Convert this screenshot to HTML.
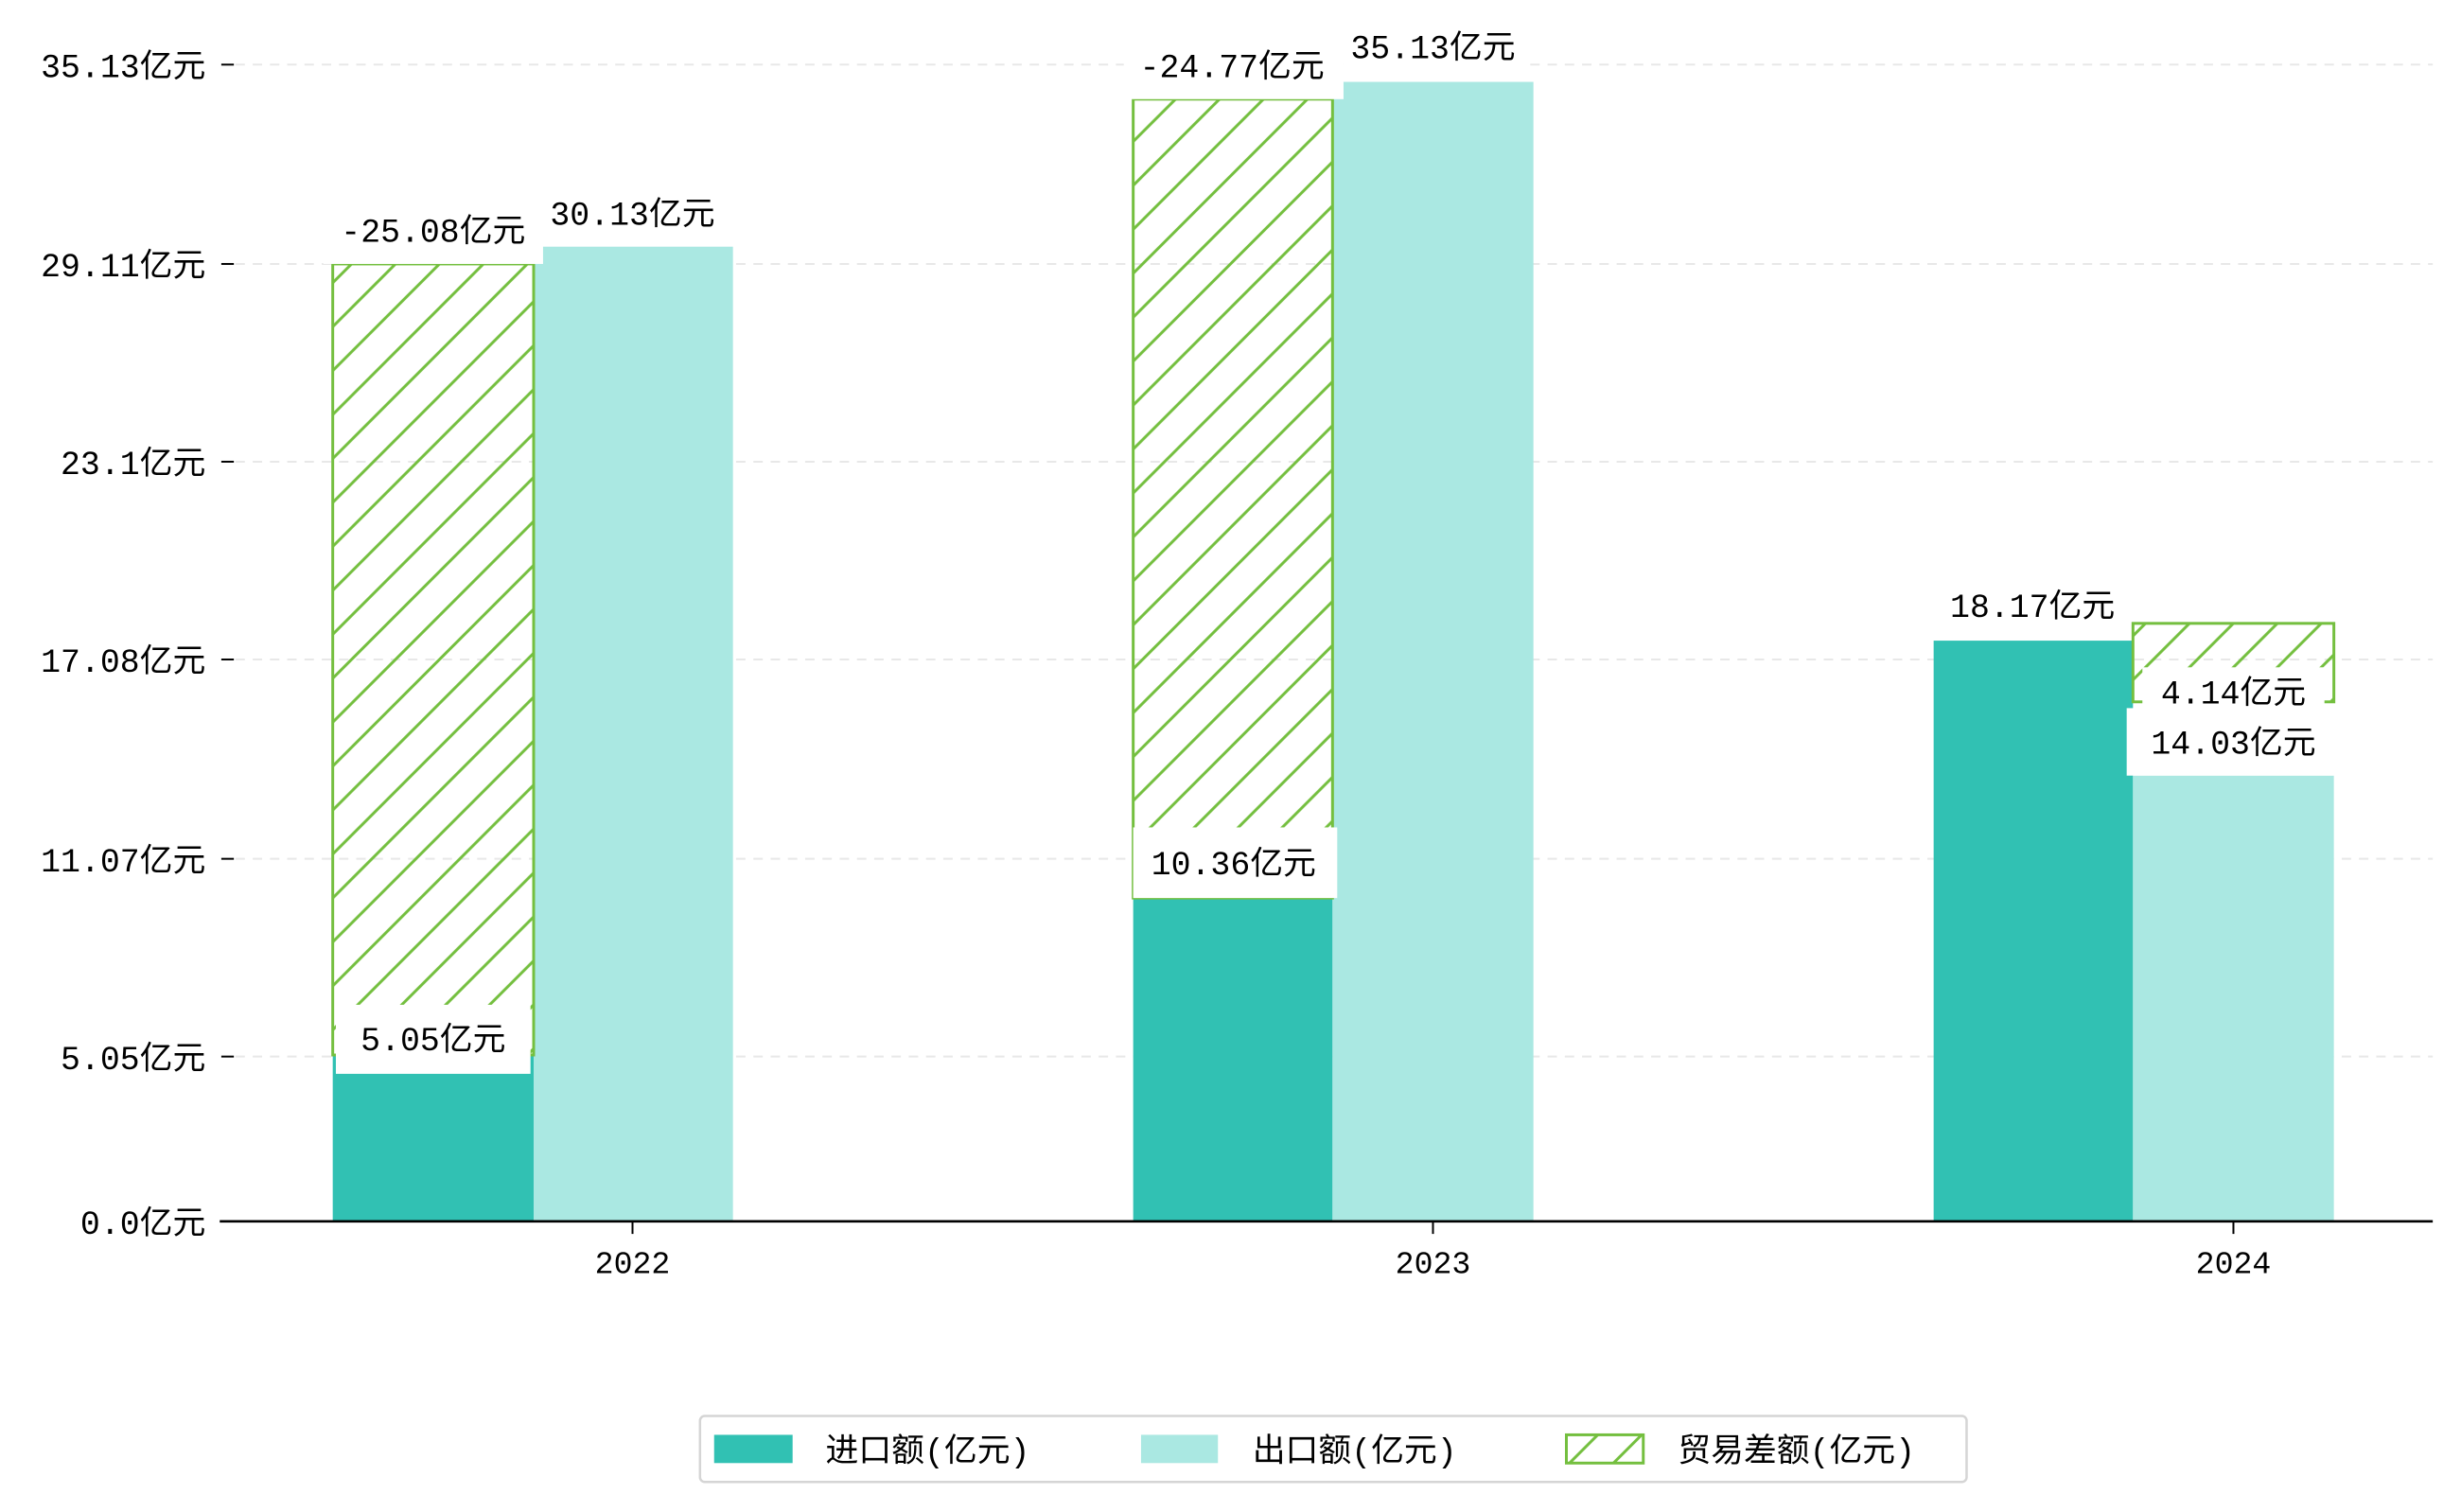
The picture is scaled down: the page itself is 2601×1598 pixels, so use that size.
<!DOCTYPE html>
<html><head><meta charset="utf-8"><style>
html,body{margin:0;padding:0;background:#fff;}
svg{display:block;}
text{font-family:"Liberation Mono","Noto Sans CJK SC",monospace;fill:#000;}
</style></head><body>
<svg width="2601" height="1598" viewBox="0 0 1568 963" xmlns="http://www.w3.org/2000/svg">
<defs>
<pattern id="h" patternUnits="userSpaceOnUse" width="28" height="28">
<path d="M-7,7 L7,-7 M0,28 L28,0 M21,35 L35,21" stroke="#74bf3f" stroke-width="1.8"/>
</pattern>
</defs>
<g stroke="#e8e8e8" stroke-width="1.2" stroke-dasharray="6,5">
<line x1="150" y1="41" x2="1550" y2="41"/><line x1="150" y1="168" x2="1550" y2="168"/>
<line x1="150" y1="294" x2="1550" y2="294"/><line x1="150" y1="420" x2="1550" y2="420"/>
<line x1="150" y1="547" x2="1550" y2="547"/><line x1="150" y1="673" x2="1550" y2="673"/>
</g>
<rect x="212" y="672" width="128" height="106" fill="#31c1b3"/>
<rect x="340" y="157" width="127" height="621" fill="#aae8e2"/>
<rect x="722" y="572" width="127" height="206" fill="#31c1b3"/>
<rect x="849" y="52" width="128" height="726" fill="#aae8e2"/>
<rect x="1232" y="408" width="127" height="370" fill="#31c1b3"/>
<rect x="1359" y="494" width="128" height="284" fill="#aae8e2"/>
<rect x="212" y="168" width="128" height="504" fill="url(#h)" stroke="#74bf3f" stroke-width="1.8"/>
<rect x="722" y="63" width="127" height="509" fill="url(#h)" stroke="#74bf3f" stroke-width="1.8"/>
<rect x="1359" y="397" width="128" height="50" fill="url(#h)" stroke="#74bf3f" stroke-width="1.8"/>
<g font-size="21" text-anchor="middle">
<rect x="206" y="132" width="140" height="36" fill="#fff"/><text x="276" y="154">-25.08亿元</text>
<rect x="346" y="120" width="118" height="36" fill="#fff"/><text x="403" y="143">30.13亿元</text>
<rect x="214" y="640" width="124" height="44" fill="#fff"/><text x="276" y="669">5.05亿元</text>
<rect x="716" y="26" width="140" height="37" fill="#fff"/><text x="785" y="49">-24.77亿元</text>
<rect x="856" y="14" width="116" height="36" fill="#fff"/><text x="913" y="37">35.13亿元</text>
<rect x="722" y="527" width="130" height="45" fill="#fff"/><text x="786" y="557">10.36亿元</text>
<text x="1295" y="393">18.17亿元</text>
<rect x="1365" y="425" width="116" height="31" fill="#fff"/><text x="1423" y="448">4.14亿元</text>
<rect x="1355" y="451" width="132" height="43" fill="#fff"/><text x="1423" y="480">14.03亿元</text>
</g>
<line x1="140" y1="778" x2="1550" y2="778" stroke="#000" stroke-width="1.6"/>
<g stroke="#000" stroke-width="1.2">
<line x1="141" y1="41" x2="149" y2="41"/><line x1="141" y1="168" x2="149" y2="168"/>
<line x1="141" y1="294" x2="149" y2="294"/><line x1="141" y1="420" x2="149" y2="420"/>
<line x1="141" y1="547" x2="149" y2="547"/><line x1="141" y1="673" x2="149" y2="673"/>
<line x1="403" y1="778" x2="403" y2="786"/><line x1="913" y1="778" x2="913" y2="786"/><line x1="1423" y1="778" x2="1423" y2="786"/>
</g>
<g font-size="21" text-anchor="end">
<text x="131" y="49">35.13亿元</text><text x="131" y="176">29.11亿元</text>
<text x="131" y="302">23.1亿元</text><text x="131" y="428">17.08亿元</text>
<text x="131" y="555">11.07亿元</text><text x="131" y="681">5.05亿元</text>
<text x="131" y="786">0.0亿元</text>
</g>
<g font-size="20" text-anchor="middle">
<text x="403" y="811">2022</text><text x="913" y="811">2023</text><text x="1423" y="811">2024</text>
</g>
<rect x="446" y="902" width="807" height="42" rx="3" fill="#fff" stroke="#d5d5d5" stroke-width="1.5"/>
<rect x="455" y="914" width="50" height="18" fill="#31c1b3"/>
<rect x="727" y="914" width="49" height="18" fill="#aae8e2"/>
<rect x="998" y="914" width="49" height="18" fill="url(#h)" stroke="#74bf3f" stroke-width="1.8"/>
<g font-size="21">
<text x="526" y="931">进口额(亿元)</text>
<text x="798" y="931">出口额(亿元)</text>
<text x="1069" y="931">贸易差额(亿元)</text>
</g>
</svg>
</body></html>
